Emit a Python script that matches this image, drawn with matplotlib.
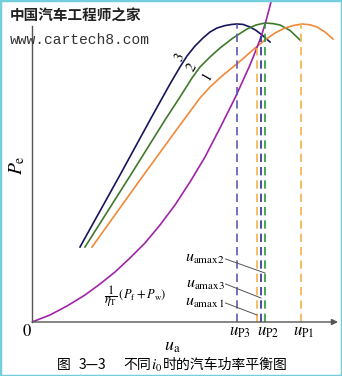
import matplotlib.pyplot as plt
from matplotlib.patches import Rectangle

# curve data (u in arbitrary speed units, P in arbitrary power units)
u_3 = [24, 44, 59, 69, 74, 77.5, 81.5, 85.5, 89, 92.5, 96.5, 100, 102.5, 105.5, 109, 112, 115, 119]
p_3 = [37.5, 73.5, 101, 119, 127.5, 133, 138, 142, 145, 147, 148.2, 148.8, 149, 148.8, 147.5, 145.8, 143.5, 140]

u_2 = [26.5, 49, 66.5, 74, 80, 84, 89, 94, 100.5, 107.5, 112, 116.5, 120.5, 124, 129, 134]
p_2 = [37.5, 73, 101, 112.5, 122, 127.5, 132.5, 137, 142, 146.5, 148.5, 149.5, 149.2, 148.5, 145.8, 141]

u_1 = [30, 54, 74, 84, 89, 95, 100.5, 106.5, 111.5, 116.5, 121.5, 126.5, 130.5, 135, 139, 142.5, 146.5, 150.5]
p_1 = [37.5, 71, 98.5, 112, 117.5, 123, 127.5, 132.5, 137, 141, 144.5, 147, 148.2, 149, 148.6, 147.5, 145, 141.5]

u_res = [0, 9, 17.5, 26.5, 34, 41.5, 49, 56.5, 64, 71.5, 79, 86.5, 94, 101.5, 109, 112, 114.5, 117, 119.5]
p_res = [0, 3.5, 8, 13.5, 19, 25, 32, 39.5, 48.5, 58.5, 70, 82.5, 97, 112, 128.5, 136, 142.5, 150.5, 160]

# vertical markers: (u, top P, colour)
u_marks = [102.5, 112.5, 114.5, 116.5, 134.5]
p_marks = [149, 137, 143, 149.5, 149]
mark_colors = ['#5a5ab4', '#f5b24a', '#2e2e9a', '#2a9a3a', '#f5b24a']

tick_u = [102.5, 116.5, 134.5]
tick_labels = [r'$u_{\mathrm{P3}}$', r'$u_{\mathrm{P2}}$', r'$u_{\mathrm{P1}}$']

amax_labels = [r'$u_{\mathrm{amax2}}$', r'$u_{\mathrm{amax3}}$', r'$u_{\mathrm{amax\,1}}$']
amax_label_p = [32, 19.5, 10]
amax_target_u = [116.5, 114.5, 112.5]
amax_target_p = [24.5, 12, 3.5]

plt.rcParams['mathtext.fontset'] = 'stix'
plt.rcParams['font.family'] = ['Noto Sans CJK SC', 'DejaVu Sans']

fig = plt.figure(figsize=(3.42, 3.76), dpi=100)
ax = fig.add_axes([32 / 342, 54 / 376, 310 / 342, 322 / 376])
ax.set_xlim(0, 155)
ax.set_ylim(0, 161)
ax.set_xticks([])
ax.set_yticks([])
for side in ['top', 'right', 'bottom']:
    ax.spines[side].set_visible(False)
ax.spines['left'].set_bounds(0, 148)
ax.spines['left'].set_color('#555555')
ax.spines['left'].set_linewidth(1.0)
ax.annotate('', xy=(153, 0), xytext=(0, 0), annotation_clip=False,
            arrowprops=dict(arrowstyle='-|>', color='#555555', lw=1.0,
                            mutation_scale=9, shrinkA=0, shrinkB=0))

ax.plot(u_3, p_3, color='#16165e', lw=1.2)
ax.plot(u_2, p_2, color='#3f7a2c', lw=1.2)
ax.plot(u_1, p_1, color='#f08a3a', lw=1.2)
ax.plot(u_res, p_res, color='#a024a8', lw=1.2)

for u, top, c in zip(u_marks, p_marks, mark_colors):
    ax.plot([u, u], [0, top], color=c, lw=1.2, ls=(0, (5, 3)))

for u, lab in zip(tick_u, tick_labels):
    ax.text(u + 1.5, -4.5, lab, ha='center', va='center', fontsize=12, clip_on=False)

for lab, py, tu, tp in zip(amax_labels, amax_label_p, amax_target_u, amax_target_p):
    ax.text(96.5, py, lab, ha='right', va='center', fontsize=11.5)
    ax.plot([96.8, tu], [py - 0.5, tp], color='#555555', lw=0.7)

for lab, u, p in zip(['3', '2', '1'], [74, 80, 87.5], [132, 127.5, 122.5]):
    ax.text(u, p, '$' + lab + '$', ha='center', va='center', fontsize=10, rotation=60)

ax.text(36, 13, r'$\dfrac{1}{\eta_{\mathrm{T}}}\,(P_{\mathrm{f}}+P_{\mathrm{w}})$',
        ha='left', va='center', fontsize=9)
ax.text(-2.5, -5, '$0$', ha='center', va='center', fontsize=12, clip_on=False)
ax.text(70, -12, r'$u_{\mathrm{a}}$', ha='center', va='center', fontsize=13, clip_on=False)
ax.text(-7.5, 78.5, r'$P_{\mathrm{e}}$', ha='center', va='center', fontsize=14,
        rotation=90, clip_on=False)

# watermark
fig.text(10 / 342, 1 - 16 / 376, '中国汽车工程师之家', fontsize=10.5, fontweight='bold',
         color='#222222', ha='left', va='center')
fig.text(10 / 342, 1 - 40 / 376, 'www.cartech8.com', fontsize=10.5, family='Liberation Mono',
         color='#333333', ha='left', va='center')

# caption
cap_y = 1 - 365 / 376
fig.text(57 / 342, cap_y, '图', fontsize=10, ha='left', va='center')
fig.text(79 / 342, cap_y, '3—3', fontsize=10, ha='left', va='center')
fig.text(123 / 342, cap_y, '不同', fontsize=10, ha='left', va='center')
fig.text(151 / 342, cap_y, r'$i_0$', fontsize=11, ha='left', va='center')
fig.text(163 / 342, cap_y, '时的汽车功率平衡图', fontsize=10, ha='left', va='center')

fig.patches.append(Rectangle((0, 0), 1, 1, transform=fig.transFigure, fill=False,
                             edgecolor='#74cfdc', lw=2.5))

fig.savefig('out.png', dpi=100)
